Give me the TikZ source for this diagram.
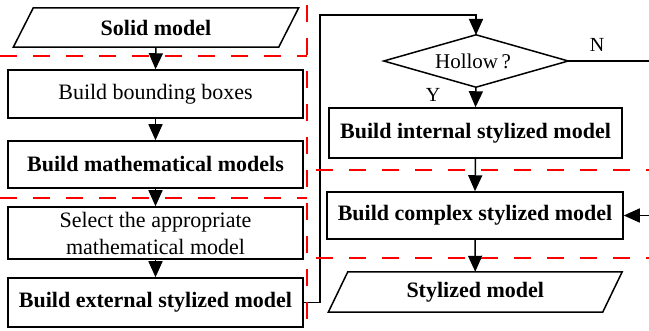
\documentclass[tikz,border=0pt]{standalone}
\usepackage{fontspec}
\setmainfont{Liberation Serif}
\usetikzlibrary{arrows.meta,calc}

\tikzset{
  box/.style={draw, line width=1.5pt, rectangle, inner sep=0pt, align=center,
    font=\fontsize{22}{27}\selectfont},
  boldbox/.style={box, font=\fontsize{22}{27}\selectfont\bfseries},
  plain/.style={rectangle, inner sep=0pt, align=center},
  flow/.style={line width=1.5pt, -{Triangle[width=14pt,length=16pt]}},
  link/.style={line width=1.5pt},
  zone/.style={red, line width=2.5pt, dash pattern=on 17pt off 16pt},
  lbl/.style={font=\fontsize{20}{24}\selectfont, inner sep=0pt}
}

\begin{document}
\begin{tikzpicture}[x=1pt, y=-1pt]
  \useasboundingbox (0,0) rectangle (649,331);

  % left column
  \node[plain, minimum width=265pt, minimum height=39pt,
        font=\fontsize{22}{27}\selectfont\bfseries] (sm) at (156,27.5) {Solid model};
  \draw[link] ($(sm.north west)+(10,0)$) -- ($(sm.north east)+(10,0)$)
     -- ($(sm.south east)+(-10,0)$) -- ($(sm.south west)+(-10,0)$) -- cycle;

  \node[box, minimum width=295pt, minimum height=48pt] (bb) at (155.5,94) {Build bounding boxes};
  \node[boldbox, minimum width=295pt, minimum height=47pt] (mm) at (155.5,164.5) {Build mathematical models};
  \node[box, minimum width=295pt, minimum height=52pt] (sel) at (155.5,233) {Select the appropriate\\mathematical model};
  \node[boldbox, minimum width=295pt, minimum height=49pt] (ext) at (155.5,302.5) {Build external stylized model};

  % right column
  \node[plain, minimum width=184pt, minimum height=52pt,
        font=\fontsize{21}{25}\selectfont] (h) at (473,61) {Hollow\,?};
  \draw[link] ($(h.north)+(3,0)$) -- ($(h.east)+(3,0)$) -- ($(h.south)+(3,0)$) -- ($(h.west)+(3,0)$) -- cycle;
  \coordinate (htop) at (476,35);
  \coordinate (hbot) at (476,87);
  \coordinate (hright) at (568,61);

  \node[boldbox, minimum width=293pt, minimum height=50pt] (int) at (475.5,133) {Build internal stylized model};
  \node[boldbox, minimum width=296pt, minimum height=47pt] (cx) at (475,215.5) {Build complex stylized model};

  \node[plain, minimum width=274pt, minimum height=40pt,
        font=\fontsize{22}{27}\selectfont\bfseries] (st) at (475.25,292) {Stylized model};
  \draw[link] ($(st.north west)+(9.75,0)$) -- ($(st.north east)+(9.75,0)$)
     -- ($(st.south east)+(-9.75,0)$) -- ($(st.south west)+(-9.75,0)$) -- cycle;

  \coordinate (loop) at (320,15);
  \coordinate (nout) at (649,61);
  \coordinate (cin) at (649,215.5);

  % connectors
  \draw[flow] (sm.south) -- (bb.north);
  \draw[flow] (bb.south) -- (mm.north);
  \draw[flow] (mm.south) -- (sel.north);
  \draw[flow] (sel.south) -- (ext.north);
  \draw[flow] (ext.east) -| (loop) -| (htop);
  \draw[flow] (hbot) -- (int.north);
  \draw[link] (hright) -- (nout);
  \draw[flow] (int.south) -- (cx.north);
  \draw[flow] (cin) -- (cx.east);
  \draw[flow] (cx.south) -- (st.north);

  \node[lbl] (ny) at (597,45) {N};
  \node[lbl] (yy) at (433,95) {Y};

  % stage boundaries
  \draw[zone] (0,56) -- (307,56);
  \draw[zone] (307,5) -- (307,331);
  \draw[zone] (0,198) -- (307,198);
  \draw[zone] (316,170) -- (649,170);
  \draw[zone] (316,258) -- (649,258);
\end{tikzpicture}
\end{document}
